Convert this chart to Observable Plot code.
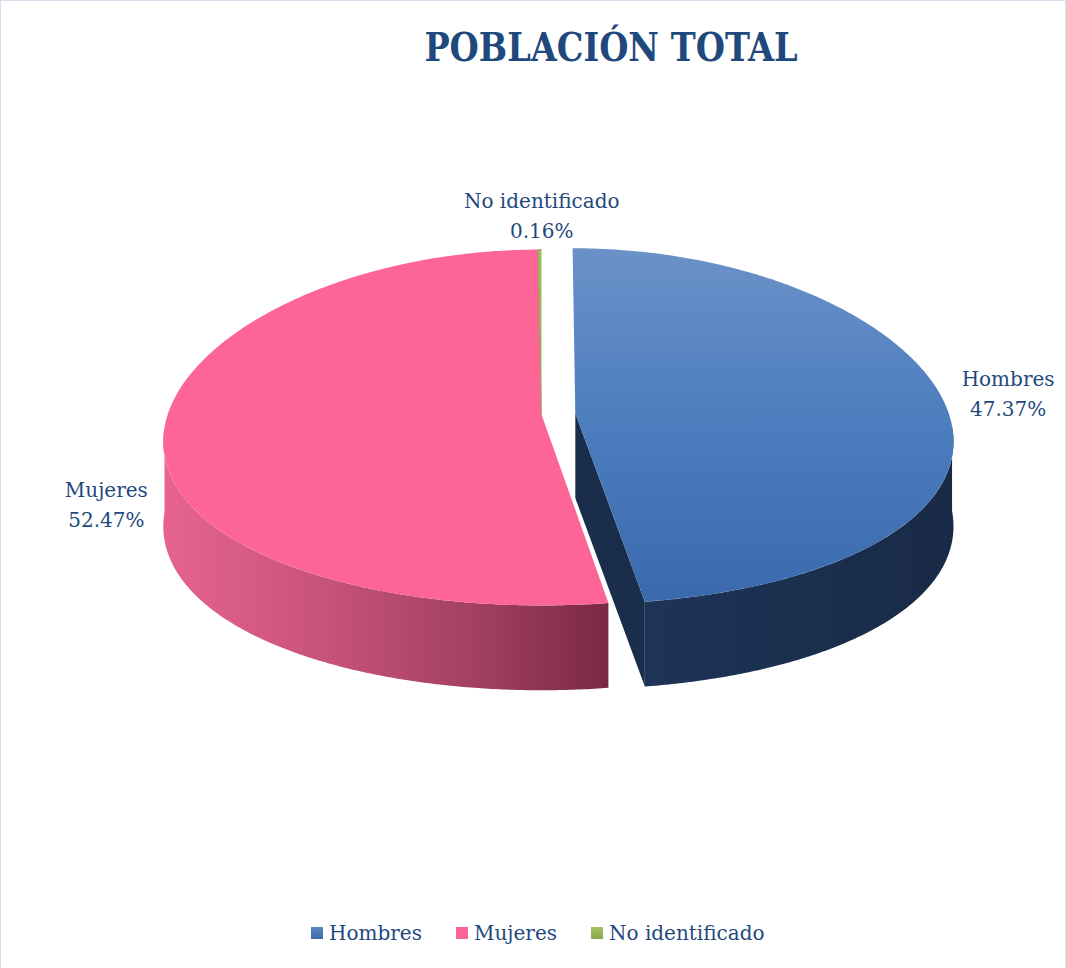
<!DOCTYPE html>
<html>
<head>
<meta charset="utf-8">
<script src="https://cdn.jsdelivr.net/npm/d3@7"></script>
<script src="https://cdn.jsdelivr.net/npm/@observablehq/plot@0.6"></script>
<style>
  html, body { margin: 0; padding: 0; background: #ffffff; }
  #page { position: relative; width: 1066px; height: 968px; overflow: hidden; font-family: "DejaVu Serif", serif; background: #fff; }
  #frame { position: absolute; left: 0; top: 0; width: 1064px; height: 980px; border: 1px solid #d5e0ec; pointer-events: none; }
  #title { position: absolute; left: 311px; top: 28px; width: 600px; text-align: center; font-family: "DejaVu Serif", serif; font-weight: bold; font-size: 39px; line-height: 39px; color: #1f497d; transform: scaleX(0.86); transform-origin: 50% 50%; white-space: nowrap; }
  #chart { position: absolute; left: 0; top: 100px; }
  #legend { position: absolute; left: 311px; top: 923px; height: 20px; display: flex; align-items: center; font-family: "DejaVu Serif", serif; font-size: 20px; line-height: 20px; color: #1f497d; white-space: nowrap; }
  .item { display: flex; align-items: center; margin-right: 34px; }
  .sw { width: 12px; height: 12px; margin-right: 6px; }
</style>
</head>
<body>
<div id="page">
  <div id="title">POBLACIÓN TOTAL</div>
  <div id="chart"></div>
  <div id="legend"></div>
  <div id="frame"></div>
</div>
<script>
// ---- data ----
const categories = ["Hombres", "Mujeres", "No identificado"];
const values = [47.37, 52.47, 0.16];
const labels = ["47.37%", "52.47%", "0.16%"];
const explode = [0.09, 0, 0];

// ---- styles ----
const palette = {
  Hombres: { top: "url(#gBlueTop)", side: "url(#gBlueSide)", cut: "#1a2d4b", legend: "linear-gradient(#5b87c3,#3a6aad)" },
  Mujeres: { top: "#fc6596", side: "url(#gPinkSide)", cut: "#7a2845", legend: "#fc6596" },
  "No identificado": { top: "#9bbb59", side: "#76923c", cut: "#76923c", legend: "linear-gradient(#a6c367,#88a848)" }
};
const textColor = "#1f497d";

// ---- geometry (layout) ----
const W = 1066, H = 780;
const U = 377;            // pixels per unit radius
const CX = 541, CY = 327; // pie center in svg pixels
const RY = 0.472;         // vertical squash of the ellipse
const DEPTH = 0.225;      // thickness
const APEX = 0.0345;      // apex lift (perspective)
const PERSP = 0.08;       // horizontal perspective (front wider)

const rows = categories.map((c, i) => ({ category: c, value: values[i], label: labels[i], explode: explode[i] }));
const arcs = d3.pie().sort(null).value(d => d.value).startAngle(0).endAngle(2 * Math.PI)(rows);

// project a 3D point (east, north, z) to plot units
function proj(e, n, z) { return { x: e * (1 - PERSP * n), y: RY * n + z }; }
function rim(a, oe, on, z) { return proj(oe + Math.sin(a), on + Math.cos(a), z); }
function arcPts(a0, a1, oe, on, z) {
  const n = Math.max(2, Math.ceil(Math.abs(a1 - a0) / (Math.PI / 360)));
  return d3.range(n + 1).map(i => rim(a0 + (a1 - a0) * i / n, oe, on, z));
}

const sideFaces = [], topFaces = [], anchors = [];
for (const a of arcs) {
  const d = a.data;
  const mid = (a.startAngle + a.endAngle) / 2;
  const oe = d.explode * Math.sin(mid);
  const on = d.explode * Math.cos(mid);
  const apexTop = proj(oe, on, APEX);
  const apexBot = proj(oe, on, APEX - DEPTH);
  const st = palette[d.category];
  // cut faces (only visible for exploded slices)
  if (d.explode > 0) {
    if (Math.sin(a.endAngle) > 0.01) {
      sideFaces.push({ pts: [apexTop, rim(a.endAngle, oe, on, 0), rim(a.endAngle, oe, on, -DEPTH), apexBot], fill: st.cut });
    }
    if (Math.sin(a.startAngle) < -0.01) {
      sideFaces.push({ pts: [apexTop, rim(a.startAngle, oe, on, 0), rim(a.startAngle, oe, on, -DEPTH), apexBot], fill: st.cut });
    }
  }
  // outer wall (front half only)
  const s0 = Math.max(a.startAngle, Math.PI / 2), s1 = Math.min(a.endAngle, 3 * Math.PI / 2);
  if (s1 > s0) {
    sideFaces.push({ pts: arcPts(s0, s1, oe, on, 0).concat(arcPts(s1, s0, oe, on, -DEPTH)), fill: st.side });
  }
  // top face
  topFaces.push({ pts: [apexTop].concat(arcPts(a.startAngle, a.endAngle, oe, on, 0)), fill: st.top, cat: d.category });
  anchors.push({ ...rim(mid, oe, on, 0), text: `${d.category}\n${d.label}`, category: d.category });
}

// label offsets from the rim point (pixels)
const nudge = { "Hombres": [60, -20], "Mujeres": [-57, 59], "No identificado": [2, -36] };

const faceMarks = sideFaces.concat(topFaces).map(f =>
  Plot.line(f.pts, { x: "x", y: "y", fill: f.fill, stroke: f.cat === "No identificado" ? "#7f9c43" : "none", strokeWidth: 0.6, curve: "linear" })
);

const textMarks = anchors.map(an =>
  Plot.text([an], { x: "x", y: "y", text: "text", dx: nudge[an.category][0], dy: nudge[an.category][1],
    fontSize: 20, fontFamily: "DejaVu Serif", fill: textColor, lineHeight: 1.5, textAnchor: "middle" })
);

const svg = Plot.plot({
  width: W, height: H,
  marginTop: 0, marginRight: 0, marginBottom: 0, marginLeft: 0,
  x: { domain: [-CX / U, (W - CX) / U], axis: null },
  y: { domain: [(CY - H) / U, CY / U], axis: null },
  style: { background: "transparent", overflow: "visible" },
  marks: [...faceMarks, ...textMarks]
});

// gradients
const defs = d3.select(svg).insert("defs", ":first-child");
function grad(id, horizontal, stops) {
  const g = defs.append("linearGradient").attr("id", id)
    .attr("x1", 0).attr("y1", 0).attr("x2", horizontal ? 1 : 0).attr("y2", horizontal ? 0 : 1);
  stops.forEach(([o, c]) => g.append("stop").attr("offset", o).attr("stop-color", c));
}
grad("gBlueTop", false, [[0, "#6b91c8"], [0.5, "#4c7dbe"], [1, "#3a6aad"]]);
grad("gBlueSide", true, [[0, "#1e3457"], [1, "#182a46"]]);
grad("gPinkSide", true, [[0, "#e6648f"], [0.35, "#c9537b"], [0.7, "#a24063"], [1, "#7a2845"]]);

document.getElementById("chart").appendChild(svg);

// legend
const legend = d3.select("#legend");
categories.forEach(c => {
  const it = legend.append("div").attr("class", "item");
  it.append("div").attr("class", "sw").style("background", palette[c].legend);
  it.append("span").text(c);
});
</script>
</body>
</html>
